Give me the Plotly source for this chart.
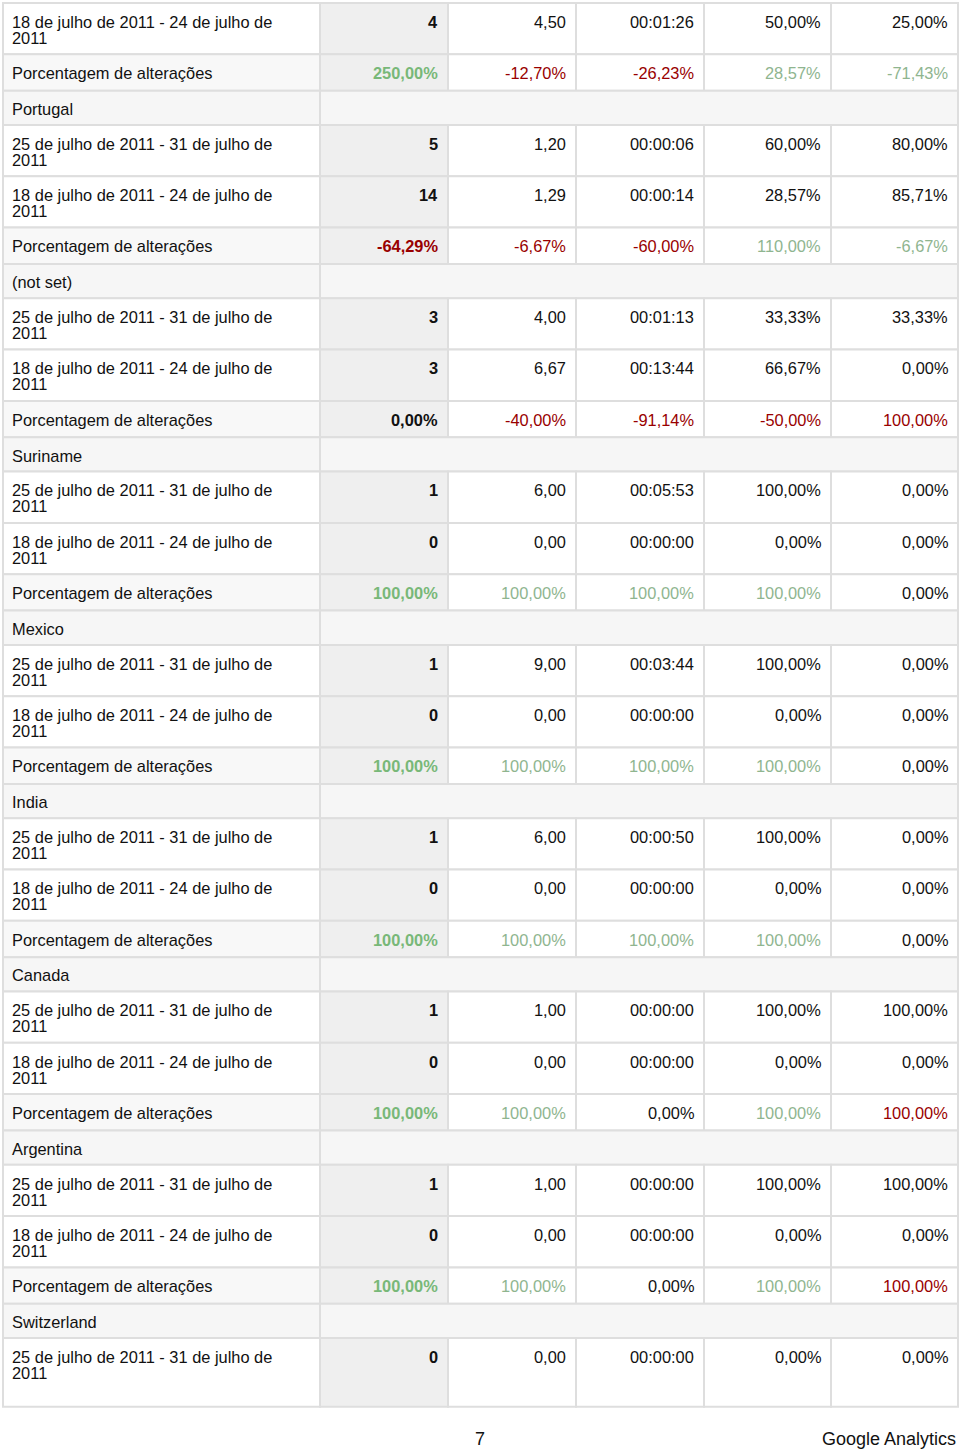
import plotly.graph_objects as go

# Row labels
PERIOD_NOW = "25 de julho de 2011 - 31 de julho de|2011"
PERIOD_PREV = "18 de julho de 2011 - 24 de julho de|2011"
CHANGE_LABEL = "Porcentagem de alterações"

# Tail of the country carried over from the previous page
lead_prev = [4, 4.50, 86, 50.00, 25.00]
lead_change = [250.00, -12.70, -26.23, 28.57, -71.43]
lead_verdict = [1, -1, -1, 1, 1]

countries = ["Portugal", "(not set)", "Suriname", "Mexico", "India",
             "Canada", "Argentina", "Switzerland"]

# metrics: visits, pages/visit, avg. time on site (s), % new visits, bounce rate
visits_now = [5, 3, 1, 1, 1, 1, 1, 0]
pages_now = [1.20, 4.00, 6.00, 9.00, 6.00, 1.00, 1.00, 0.00]
time_now = [6, 73, 353, 224, 50, 0, 0, 0]
new_now = [60.00, 33.33, 100.00, 100.00, 100.00, 100.00, 100.00, 0.00]
bounce_now = [80.00, 33.33, 0.00, 0.00, 0.00, 100.00, 100.00, 0.00]

visits_prev = [14, 3, 0, 0, 0, 0, 0]
pages_prev = [1.29, 6.67, 0.00, 0.00, 0.00, 0.00, 0.00]
time_prev = [14, 824, 0, 0, 0, 0, 0]
new_prev = [28.57, 66.67, 0.00, 0.00, 0.00, 0.00, 0.00]
bounce_prev = [85.71, 0.00, 0.00, 0.00, 0.00, 0.00, 0.00]

visits_change = [-64.29, 0.00, 100.00, 100.00, 100.00, 100.00, 100.00]
pages_change = [-6.67, -40.00, 100.00, 100.00, 100.00, 100.00, 100.00]
time_change = [-60.00, -91.14, 100.00, 100.00, 100.00, 0.00, 0.00]
new_change = [110.00, -50.00, 100.00, 100.00, 100.00, 100.00, 100.00]
bounce_change = [-6.67, 100.00, 0.00, 0.00, 0.00, 100.00, 100.00]

# 1 = better (green), -1 = worse (red), 0 = neutral
visits_verdict = [-1, 0, 1, 1, 1, 1, 1]
pages_verdict = [-1, -1, 1, 1, 1, 1, 1]
time_verdict = [-1, -1, 1, 1, 1, 0, 0]
new_verdict = [1, -1, 1, 1, 1, 1, 1]
bounce_verdict = [1, -1, 0, 0, 0, -1, -1]

PAGE_NUMBER = "7"
FOOTER = "Google Analytics"

FONT = "Liberation Sans, Arial, Helvetica, sans-serif"
BORDER = "#dedede"
GREEN_MAIN = "#78b878"
GREEN = "#8fb58f"
RED = "#990000"
TEXT = "#111111"


def fmt_num(v):
    return f"{v:.2f}".replace(".", ",")


def fmt_pct(v):
    return fmt_num(v) + "%"


def fmt_time(s):
    return f"{s // 3600:02d}:{s % 3600 // 60:02d}:{s % 60:02d}"


def metric_cells(row):
    v, p, t, n, b = row
    return [str(v), fmt_num(p), fmt_time(t), fmt_pct(n), fmt_pct(b)]


def change_cells(row, verdict):
    cells = []
    for i, (v, k) in enumerate(zip(row, verdict)):
        if k > 0:
            c = GREEN_MAIN if i == 0 else GREEN
        elif k < 0:
            c = RED
        else:
            c = TEXT
        cells.append((fmt_pct(v), c))
    return cells


# Build the row sequence
rows = []
rows.append(("period", PERIOD_PREV, [(s, TEXT) for s in metric_cells(lead_prev)]))
rows.append(("change", CHANGE_LABEL, change_cells(lead_change, lead_verdict)))
for i, name in enumerate(countries):
    rows.append(("country", name, None))
    now = [visits_now[i], pages_now[i], time_now[i], new_now[i], bounce_now[i]]
    rows.append(("period", PERIOD_NOW, [(s, TEXT) for s in metric_cells(now)]))
    if i < len(visits_prev):
        prev = [visits_prev[i], pages_prev[i], time_prev[i], new_prev[i], bounce_prev[i]]
        rows.append(("period", PERIOD_PREV, [(s, TEXT) for s in metric_cells(prev)]))
        chg = [visits_change[i], pages_change[i], time_change[i], new_change[i], bounce_change[i]]
        vrd = [visits_verdict[i], pages_verdict[i], time_verdict[i], new_verdict[i], bounce_verdict[i]]
        rows.append(("change", CHANGE_LABEL, change_cells(chg, vrd)))

row_height = {"period": 51.3, "change": 36.4, "country": 34.3}
col_edges = [3, 320, 448, 576, 704, 831, 958]
table_top = 3
last_row_height = 68.7

shapes = []
annotations = []


def cell(x0, x1, y0, y1, fill):
    shapes.append(dict(type="rect", xref="x", yref="y", x0=x0, x1=x1, y0=y0, y1=y1,
                       fillcolor=fill, line=dict(color=BORDER, width=2), layer="below"))


def label(x, y, text, anchor, color=TEXT, size=16.4):
    annotations.append(dict(x=x, y=y, xref="x", yref="y", text=text, showarrow=False,
                            xanchor=anchor, yanchor="middle",
                            font=dict(family=FONT, size=size, color=color)))


y = table_top
for r, (kind, text, cells) in enumerate(rows):
    h = last_row_height if r == len(rows) - 1 else row_height[kind]
    ty = y + 18.7
    if kind == "country":
        cell(col_edges[0], col_edges[1], y, y + h, "#f6f6f6")
        cell(col_edges[1], col_edges[-1], y, y + h, "#f6f6f6")
        label(col_edges[0] + 7, ty - 0.5, text, "left")
    else:
        cell(col_edges[0], col_edges[1], y, y + h, "#f8f8f8" if kind == "change" else "white")
        for j in range(5):
            cell(col_edges[j + 1], col_edges[j + 2], y, y + h, "#efefef" if j == 0 else "white")
        for k, line in enumerate(text.split("|")):
            label(col_edges[0] + 7, ty + 16 * k, line, "left")
        for j, (s, c) in enumerate(cells):
            txt = f"<b>{s}</b>" if j == 0 else s
            label(col_edges[j + 2] - 8, ty, txt, "right", c)
    y += h

label(480, 1438.5, PAGE_NUMBER, "center", size=18)
label(958, 1438.5, FOOTER, "right", size=18)

fig = go.Figure(go.Scatter(x=[0], y=[0], mode="markers", marker=dict(opacity=0),
                           hoverinfo="skip", showlegend=False))
fig.update_layout(
    width=960, height=1451,
    margin=dict(l=0, r=0, t=0, b=0),
    paper_bgcolor="white", plot_bgcolor="white",
    xaxis=dict(range=[0, 960], visible=False, fixedrange=True),
    yaxis=dict(range=[1451, 0], visible=False, fixedrange=True),
    shapes=shapes, annotations=annotations,
)

fig.write_html("out.html", config={"displayModeBar": False},
               post_script="document.body.style.margin='0';")
